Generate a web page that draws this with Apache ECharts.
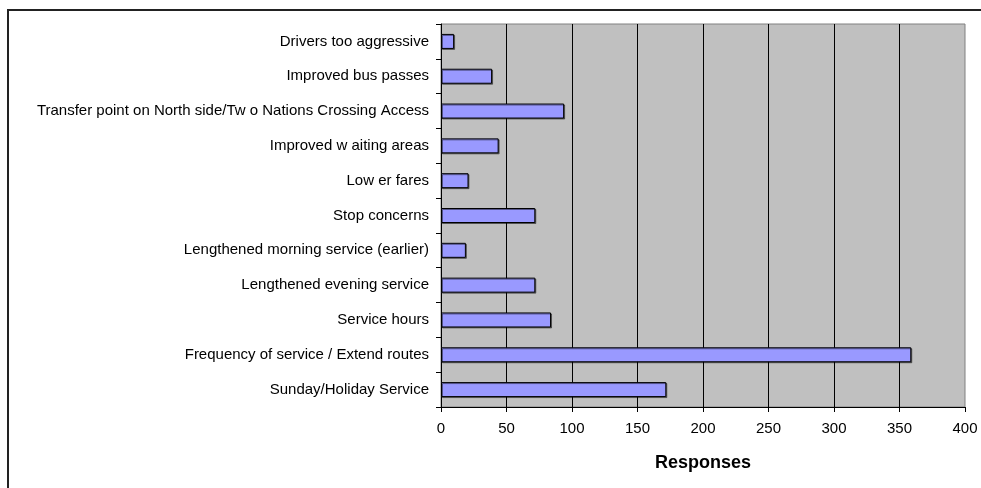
<!DOCTYPE html>
<html>
<head>
<meta charset="utf-8">
<script src="https://cdn.jsdelivr.net/npm/echarts@6/dist/echarts.min.js"></script>
<style>
  html, body { margin: 0; padding: 0; background: #fff; }
  #chart { width: 981px; height: 488px; }
</style>
</head>
<body>
<div id="chart"></div>
<script>
// categories, top to bottom
const categories = [
  "Drivers too aggressive",
  "Improved bus passes",
  "Transfer point on North side/Tw o Nations Crossing Access",
  "Improved w aiting areas",
  "Low er fares",
  "Stop concerns",
  "Lengthened morning service (earlier)",
  "Lengthened evening service",
  "Service hours",
  "Frequency of service / Extend routes",
  "Sunday/Holiday Service"
];
const responses = [10, 39, 94, 44, 21, 72, 19, 72, 84, 359, 172];
const xTicks = [0, 400, 50]; // min, max, interval

const chart = echarts.init(document.getElementById("chart"));
const option = {
  animation: false,
  textStyle: { fontFamily: "Liberation Sans, Arial, sans-serif" },
  graphic: [
    {
      // outer chart frame (only top and left visible)
      type: "rect",
      shape: { x: 8, y: 10, width: 1000, height: 500 },
      style: { fill: null, stroke: "#222", lineWidth: 2 }
    }
  ],
  grid: {
    left: 441,
    top: 24,
    right: 16,
    bottom: 81,
    show: true,
    backgroundColor: "#c0c0c0",
    borderColor: "#808080",
    borderWidth: 1
  },
  xAxis: {
    type: "value",
    min: xTicks[0],
    max: xTicks[1],
    interval: xTicks[2],
    name: "Responses",
    nameLocation: "middle",
    nameGap: 47,
    nameTextStyle: { fontSize: 18, fontWeight: "bold", color: "#000" },
    axisLine: { show: true, lineStyle: { color: "#000", width: 1 } },
    axisTick: { show: true, length: 5, lineStyle: { color: "#000" } },
    axisLabel: { color: "#000", fontSize: 15, margin: 14 },
    splitLine: {
      show: true,
      showMinLine: false,
      showMaxLine: false,
      lineStyle: { color: "#000", width: 1 }
    }
  },
  yAxis: {
    type: "category",
    data: categories,
    inverse: true,
    axisLine: { show: true, lineStyle: { color: "#000", width: 1 } },
    axisTick: { show: true, length: 5, lineStyle: { color: "#000" } },
    axisLabel: { color: "#000", fontSize: 15, margin: 12 },
    splitLine: { show: false }
  },
  series: [
    {
      type: "bar",
      data: responses,
      barWidth: 15,
      itemStyle: {
        color: "#9999ff",
        borderColor: "#000",
        borderWidth: 1,
        shadowColor: "rgba(0,0,0,0.45)",
        shadowOffsetX: 1,
        shadowOffsetY: 1,
        shadowBlur: 0
      }
    }
  ]
};
chart.setOption(option);
</script>
</body>
</html>
